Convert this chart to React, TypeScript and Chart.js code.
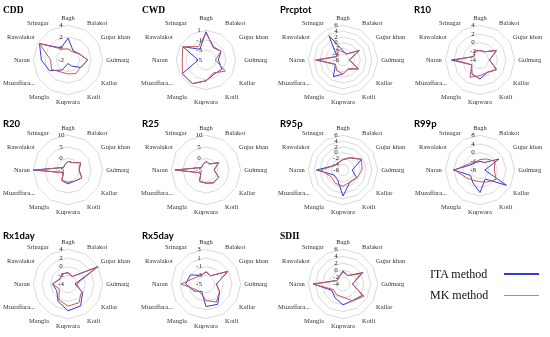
import React, { useEffect, useRef } from 'react';
import { Chart, registerables } from 'chart.js';
Chart.register(...registerables);

const stations = ['Bagh', 'Balakot', 'Gujar khan', 'Gulmarg', 'Kallar', 'Kotli', 'Kupwara', 'Mangla', 'Muzaffara...', 'Naran', 'Rawalakot', 'Srinagar'];

const cddTicks = [-2, 0, 2, 4];
const cddITA = [1.8, -0.2, 0.2, 1.4, 0.6, -0.8, -1.4, 0, 1.7, 2.6, 3.7, 0.4];
const cddMK = [-0.1, -0.4, 0.2, 1.4, 0.5, 0.7, 0.4, 0.4, 1.3, 1.0, 3.7, 0.2];

const cwdTicks = [-5, -4, -3, -2, -1, 0, 1, 2];
const cwdITA = [0.7, -2.1, -1.5, -2.5, -1.3, -1.7, -0.8, 0.5, 0.5, -3.4, 0.4, -2.5];
const cwdMK = [0.4, -1.9, -1.5, -3.1, -0.5, -2.0, -0.8, 0.5, 0.5, -0.2, 0.4, -1.9];

const prcTicks = [-6, -4, -2, 0, 2, 4, 6];
const prcITA = [-2.8, -3.6, 0.6, -3.8, 0.1, -2.4, -1.2, 0.7, -3, 2.8, -3.6, 3.7];
const prcMK = [-3.2, -3.6, 0.6, -3.8, 0.1, -2.4, -1.2, -1.7, -3, 3.6, -3.6, -2];

const r10Ticks = [-4, -2, 0, 2, 4];
const r10ITA = [-1.8, -1.8, 0.4, -1.8, 0.4, -0.7, 0.4, -0.3, -1.8, 2.6, -2.4, -1.6];
const r10MK = [-1.8, -1.8, 0.4, -1.8, 0.4, -0.7, -0.4, 0.6, -1.8, 1.8, -2.4, -1.6];

const r20Ticks = [-5, 0, 5, 10];
const r20ITA = [-1.3, -1.3, 1.3, -0.2, 1.9, 0.6, 1.0, 0.3, -2.8, 10, -2.8, -2.3];
const r20MK = [-1.3, -1.3, 1.3, -0.2, 1.9, 0.6, 0.3, 0.3, -2.5, 8.5, -2.8, -2.3];

const r25Ticks = [-5, 0, 5, 10];
const r25ITA = [-1.3, -2, 1.3, -1.5, 1.3, 1.5, 0.7, 0.7, -2.5, 8.5, -2.8, -2.3];
const r25MK = [-1.3, -2, 1.3, -1.5, 1.3, 1.2, 0.7, 0.7, -2.5, 7.9, -2.8, -2.3];

const r95Ticks = [-6, -4, -2, 0, 2, 4, 6];
const r95ITA = [-2.4, -1.1, 1.4, -2.8, -0.6, -1.2, 3.0, -2.2, -2.5, 3.2, -2.8, -3];
const r95MK = [-2.4, -1.1, 1.4, 0.6, -0.5, -1.2, -0.4, -0.7, -1.3, 1.7, -2.8, -3];

const r99Ticks = [-8, -6, -4, -2, 0, 2, 4, 6, 8];
const r99ITA = [-4, -4, 2.1, -5.8, 6.1, -3.2, 2.4, -1.3, -3, 4.3, -3.2, -4];
const r99MK = [-3.2, -2.1, 0, -1.4, 0.6, -1.6, -2.6, -2.4, -0.8, 3.7, -2.2, -3.7];

const rx1Ticks = [-4, -2, 0, 2, 4];
const rx1ITA = [-1.4, -2, 4, -2.4, -0.1, 1.8, 2.2, 0.6, -1, -0.4, -1.8, -1.3];
const rx1MK = [-1.4, -2, 3.6, -2, -0.4, 1, 1.1, 0.2, -1.7, -0.4, -1.8, -1.3];

const rx5Ticks = [-5, -4, -3, -2, -1, 0, 1, 2, 3];
const rx5ITA = [-2.2, -2.8, 0.8, -2.6, -1.4, 0.4, 0.2, -3, -1.8, -0.3, -0.8, -2.7];
const rx5MK = [-2.2, -2.8, 0.8, -2.6, -1.4, -0.2, -1.2, -2.6, -2.4, 0.8, -2.1, -2.7];

const sdiiTicks = [-4, -2, 0, 2, 4, 6];
const sdiiITA = [-0.2, -1.2, 2.6, -1.3, 2.5, 1.5, 2, 0.6, -0.3, 4.6, -2, -1.7];
const sdiiMK = [-0.6, -1.2, 2, -1.3, 3, 1.6, -0.2, -0.4, -0.8, 4.6, -2, -1.7];

const seriesNames = ['ITA method', 'MK method'];

const BLUE = '#3a3ad2';
const RED = '#c8585a';

const colX = [67.5, 206, 343, 480];
const rowY = [60, 170, 284];

const CW = 150;
const CH = 92;
const OFFX = 75;
const OFFY = 46;

type Panel = { title: string; ticks: number[]; ita: number[]; mk: number[]; col: number; row: number; serif: boolean };

const panels: Panel[] = [
  { title: 'CDD', ticks: cddTicks, ita: cddITA, mk: cddMK, col: 0, row: 0, serif: true },
  { title: 'CWD', ticks: cwdTicks, ita: cwdITA, mk: cwdMK, col: 1, row: 0, serif: true },
  { title: 'Prcptot', ticks: prcTicks, ita: prcITA, mk: prcMK, col: 2, row: 0, serif: false },
  { title: 'R10', ticks: r10Ticks, ita: r10ITA, mk: r10MK, col: 3, row: 0, serif: false },
  { title: 'R20', ticks: r20Ticks, ita: r20ITA, mk: r20MK, col: 0, row: 1, serif: false },
  { title: 'R25', ticks: r25Ticks, ita: r25ITA, mk: r25MK, col: 1, row: 1, serif: false },
  { title: 'R95p', ticks: r95Ticks, ita: r95ITA, mk: r95MK, col: 2, row: 1, serif: false },
  { title: 'R99p', ticks: r99Ticks, ita: r99ITA, mk: r99MK, col: 3, row: 1, serif: false },
  { title: 'Rx1day', ticks: rx1Ticks, ita: rx1ITA, mk: rx1MK, col: 0, row: 2, serif: false },
  { title: 'Rx5day', ticks: rx5Ticks, ita: rx5ITA, mk: rx5MK, col: 1, row: 2, serif: false },
  { title: 'SDII', ticks: sdiiTicks, ita: sdiiITA, mk: sdiiMK, col: 2, row: 2, serif: true },
];

const titleX = [3, 142, 280, 414];
const titleY = [10, 124, 236];

function RadarPanel({ p }: { p: Panel }) {
  const ref = useRef<HTMLCanvasElement>(null);
  useEffect(() => {
    if (!ref.current) return;
    const t = p.ticks;
    const chart = new Chart(ref.current, {
      type: 'radar',
      data: {
        labels: stations,
        datasets: [
          { label: seriesNames[0], data: p.ita, borderColor: BLUE, borderWidth: 1, pointRadius: 0, fill: false, order: 2 },
          { label: seriesNames[1], data: p.mk, borderColor: RED, borderWidth: 1, pointRadius: 0, fill: false, order: 1 },
        ],
      },
      options: {
        responsive: false,
        animation: false,
        devicePixelRatio: 1,
        layout: { padding: 0 },
        plugins: { legend: { display: false }, tooltip: { enabled: false }, title: { display: false } },
        scales: {
          r: {
            min: t[0],
            max: t[t.length - 1],
            beginAtZero: false,
            ticks: {
              count: t.length,
              maxTicksLimit: 30,
              showLabelBackdrop: false,
              backdropPadding: 0,
              color: '#222',
              font: { size: 7, family: 'Liberation Serif' },
              callback: (v: any) => String(Math.round(v * 100) / 100) + '        ',
            },
            grid: { color: '#d9d9d9', lineWidth: 1 },
            angleLines: { display: false },
            pointLabels: { color: '#333', padding: 0, font: { size: 6.5, family: 'Liberation Serif' } },
          },
        },
      },
    });
    return () => chart.destroy();
  }, [p]);
  const cx = colX[p.col];
  const cy = rowY[p.row];
  return (
    <>
      <canvas
        ref={ref}
        width={CW}
        height={CH}
        style={{ position: 'absolute', left: Math.round(cx - OFFX), top: Math.round(cy - OFFY), width: CW, height: CH }}
      />
      <div
        style={{
          position: 'absolute',
          left: titleX[p.col],
          top: titleY[p.row] - 6,
          lineHeight: '12px',
          fontSize: p.serif ? 9.5 : 9.5,
          fontWeight: 'bold',
          fontFamily: p.serif ? 'Liberation Serif' : 'Lato',
          color: '#000',
          whiteSpace: 'nowrap',
        }}
      >
        {p.title}
      </div>
    </>
  );
}

export default function App() {
  return (
    <div style={{ position: 'absolute', left: 0, top: 0, width: 550, height: 337, overflow: 'hidden', background: '#fff' }}>
      {panels.map((p) => (
        <RadarPanel key={p.title} p={p} />
      ))}
      <div style={{ position: 'absolute', left: 430, top: 266, fontFamily: 'Liberation Serif', fontSize: 12, lineHeight: '16px', color: '#111' }}>
        {seriesNames[0]}
      </div>
      <div style={{ position: 'absolute', left: 504, top: 273, width: 35, height: 2, background: BLUE }} />
      <div style={{ position: 'absolute', left: 430, top: 287, fontFamily: 'Liberation Serif', fontSize: 12, lineHeight: '16px', color: '#111' }}>
        {seriesNames[1]}
      </div>
      <div style={{ position: 'absolute', left: 504, top: 295, width: 35, height: 1, background: '#d07a7a' }} />
    </div>
  );
}
